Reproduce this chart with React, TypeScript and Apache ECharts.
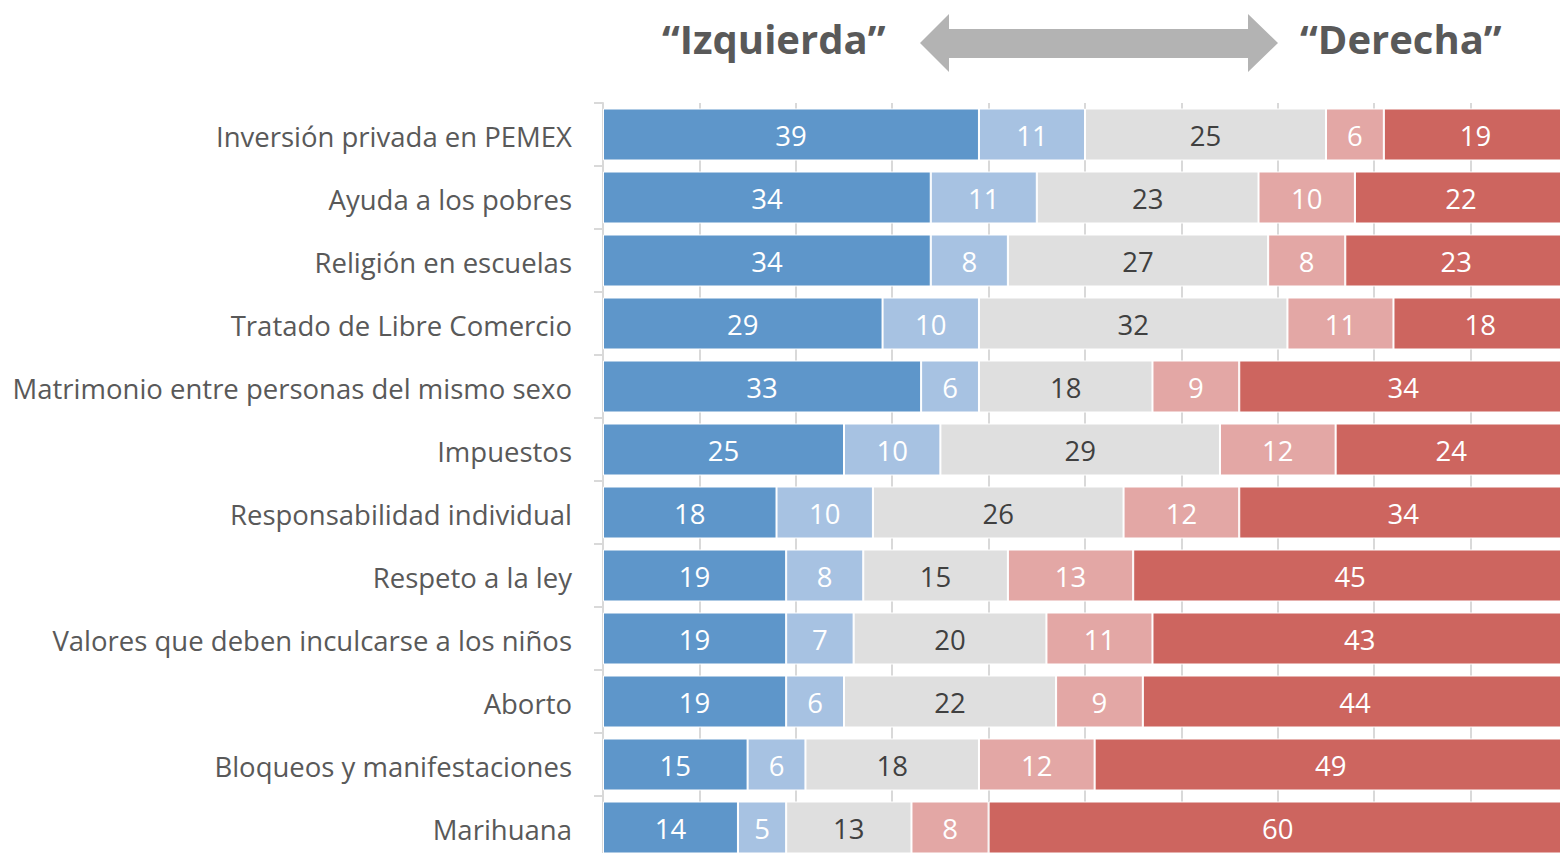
import React, { useEffect, useRef } from "react";
import * as echarts from "echarts";

const categories = [
  "Inversión privada en PEMEX",
  "Ayuda a los pobres",
  "Religión en escuelas",
  "Tratado de Libre Comercio",
  "Matrimonio entre personas del mismo sexo",
  "Impuestos",
  "Responsabilidad individual",
  "Respeto a la ley",
  "Valores que deben inculcarse a los niños",
  "Aborto",
  "Bloqueos y manifestaciones",
  "Marihuana",
];

const izquierda = [39, 34, 34, 29, 33, 25, 18, 19, 19, 19, 15, 14];
const centroIzquierda = [11, 11, 8, 10, 6, 10, 10, 8, 7, 6, 6, 5];
const centro = [25, 23, 27, 32, 18, 29, 26, 15, 20, 22, 18, 13];
const centroDerecha = [6, 10, 8, 11, 9, 12, 12, 13, 11, 9, 12, 8];
const derecha = [19, 22, 23, 18, 34, 24, 34, 45, 43, 44, 49, 60];

const seriesDefs = [
  { name: "Izquierda", data: izquierda, color: "#5E96CA", label: "#FFFFFF" },
  { name: "Centro-izquierda", data: centroIzquierda, color: "#A7C2E2", label: "#FFFFFF" },
  { name: "Centro", data: centro, color: "#DFDFDF", label: "#404040" },
  { name: "Centro-derecha", data: centroDerecha, color: "#E3A7A5", label: "#FFFFFF" },
  { name: "Derecha", data: derecha, color: "#CD655F", label: "#FFFFFF" },
];

const FONT = "'Open Sans', sans-serif";

export default function App() {
  const ref = useRef<HTMLDivElement>(null);
  useEffect(() => {
    if (!ref.current) return;
    const chart = echarts.init(ref.current, undefined, { renderer: "svg" });
    chart.setOption({
      animation: false,
      backgroundColor: "#FFFFFF",
      grid: { left: 603, top: 103, width: 964, height: 756, containLabel: false },
      xAxis: {
        type: "value",
        min: 0,
        max: 100,
        interval: 10,
        axisLabel: { show: false },
        axisLine: { show: false },
        axisTick: { show: false },
        splitLine: { show: true, lineStyle: { color: "#D9D9D9", width: 2 } },
      },
      yAxis: {
        type: "category",
        inverse: true,
        data: categories,
        axisLine: { show: true, lineStyle: { color: "#D9D9D9", width: 2 } },
        axisTick: { show: true, length: 9, lineStyle: { color: "#D9D9D9", width: 2 } },
        axisLabel: {
          fontSize: 27.5,
          color: "#595959",
          fontFamily: FONT,
          margin: 31,
          verticalAlign: "top",
          lineHeight: 30,
          padding: [-13, 0, 0, 0],
        },
      },
      graphic: [
        {
          type: "text",
          left: 662,
          top: 18,
          style: {
            text: "“Izquierda”",
            fontSize: 40,
            fontWeight: "bold",
            fontFamily: FONT,
            fill: "#595959",
          },
        },
        {
          type: "text",
          left: 1300,
          top: 18,
          style: {
            text: "“Derecha”",
            fontSize: 40,
            fontWeight: "bold",
            fontFamily: FONT,
            fill: "#595959",
          },
        },
        {
          type: "polygon",
          shape: {
            points: [
              [920, 43],
              [949, 14],
              [949, 29],
              [1248, 29],
              [1248, 14],
              [1278, 43],
              [1248, 72],
              [1248, 58],
              [949, 58],
              [949, 72],
            ],
          },
          style: { fill: "#B3B3B3" },
        },
      ],
      series: seriesDefs.map((s) => ({
        type: "bar",
        name: s.name,
        stack: "total",
        barWidth: 52,
        data: s.data,
        itemStyle: { color: s.color, borderColor: "#FFFFFF", borderWidth: 1 },
        label: {
          show: true,
          position: "inside",
          offset: [0, 1],
          color: s.label,
          fontSize: 27.5,
          fontFamily: FONT,
        },
      })),
    });
    return () => chart.dispose();
  }, []);
  return (
    <div
      ref={ref}
      style={{ position: "fixed", left: 0, top: 0, width: 1580, height: 880 }}
    />
  );
}
